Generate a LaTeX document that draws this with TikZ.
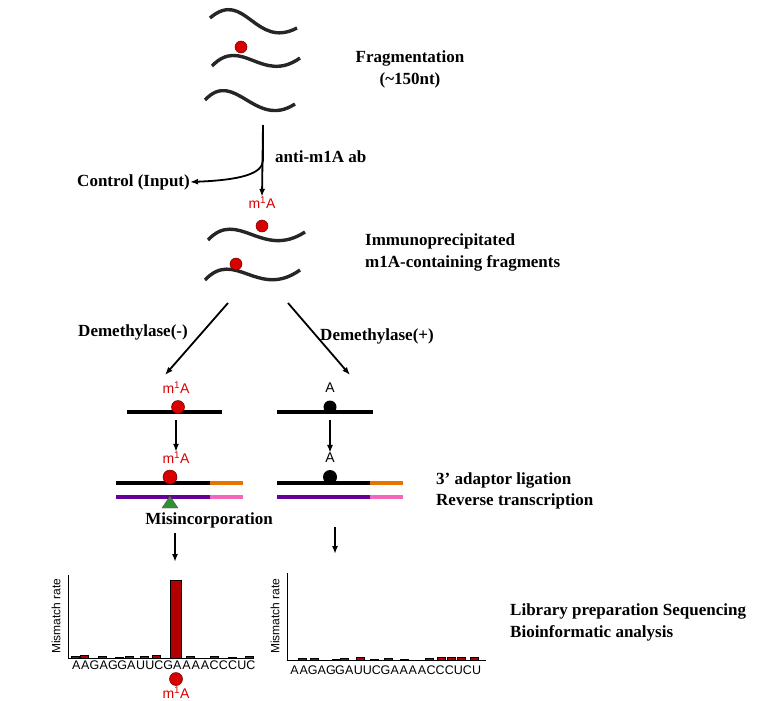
\documentclass[tikz,border=0pt]{standalone}
\usepackage{fontspec}
\setmainfont{Liberation Serif}
\newfontfamily\sansf{Liberation Sans}
\usetikzlibrary{arrows.meta}
\begin{document}
\begin{tikzpicture}[x=1pt,y=-1pt,
  lbl/.style={font=\bfseries\fontsize{17}{19}\selectfont,inner sep=0pt},
  lbll/.style={lbl,anchor=west},
  wave/.style={line width=3.4pt,black!85},
  red/.style={fill=red!85!black,draw=black!60!red,line width=0.5pt},
  mA/.style={font=\sansf\fontsize{14}{15}\selectfont,text=red!85!black,inner sep=0pt},
  pA/.style={font=\sansf\fontsize{14}{15}\selectfont,inner sep=0pt},
  arr/.style={-{Latex[length=8pt,width=6pt]},line width=1.8pt},
  strand/.style={line width=4pt},
  bar/.style={fill=red!70!black,draw=black,line width=0.7pt},
  seq/.style={font=\sansf\fontsize{12.5}{13}\selectfont,inner sep=0pt},
  ylab/.style={font=\sansf\fontsize{12}{13}\selectfont,rotate=90,inner sep=0pt}]
\useasboundingbox (0,0) rectangle (776,701);
% top waves
\draw[wave] (210,18) .. controls (245,-12) and (255,50) .. (297,28);
\draw[wave] (212,66) .. controls (242,35) and (262,85) .. (300,58);
\node[circle,red,minimum size=12pt,inner sep=0pt] (d1) at (241,47) {};
\draw[wave] (205,100) .. controls (235,68) and (255,130) .. (295,104);
\node[lbl] (frag) at (410,58) {Fragmentation};
\node[lbl] (nt) at (410,80) {(\textasciitilde150nt)};
% split
\coordinate (s) at (263,125);
\node[lbl,anchor=east] (ctrl) at (190,182) {Control (Input)};
\node[mA] (m1) at (262,203) {m\textsuperscript{1}A};
\draw[line width=1.8pt,-{Latex[length=8pt,width=6pt]}] (s) -- (263,160) .. controls (263,174) and (240,180) .. (ctrl.east);
\draw[arr] (s) -- (m1.north);
\node[lbll] (ab) at (275,157) {anti-m1A ab};
% IP waves
\draw[wave] (208,240) .. controls (238,208) and (262,260) .. (305,232);
\node[circle,red,minimum size=12pt,inner sep=0pt] (d2) at (262,226) {};
\draw[wave] (205,280) .. controls (235,248) and (258,300) .. (300,270);
\node[circle,red,minimum size=12pt,inner sep=0pt] (d3) at (236,264) {};
\node[lbll] (ip1) at (365,241) {Immunoprecipitated};
\node[lbll] (ip2) at (365,263) {m1A-containing fragments};
% demethylase arrows
\coordinate (b1) at (228,303); \coordinate (b2) at (288,303);
\node[mA] (lm1) at (176,388) {m\textsuperscript{1}A};
\node[pA] (ra1) at (330,388) {A};
\draw[arr] (b1) -- (165,375);
\draw[arr] (b2) -- (350,375);
\node[lbl] (dm) at (133,332) {Demethylase(-)};
\node[lbl] (dp) at (377,336) {Demethylase(+)};
% row 1
\draw[strand] (127,412) -- (222,412);
\node[circle,red,minimum size=13pt,inner sep=0pt] (ld1) at (178,407) {};
\draw[strand] (277,412) -- (373,412);
\node[circle,fill=black,minimum size=13pt,inner sep=0pt] (rd1) at (330,407) {};
\node[mA] (lm2) at (176,458) {m\textsuperscript{1}A};
\node[pA] (ra2) at (330,458) {A};
\draw[arr] (176,420) -- (lm2.north);
\draw[arr] (330,420) -- (ra2.north);
% row 2
\draw[strand] (116,483) -- (210,483);
\draw[strand,orange!90!black] (210,483) -- (243,483);
\draw[strand,violet!80!blue] (116,497) -- (210,497);
\draw[strand,magenta!60!white] (210,497) -- (243,497);
\node[circle,red,minimum size=14pt,inner sep=0pt] (ld2) at (170,477) {};
\draw[fill=green!45!black!80,draw=black!70] (162,508) -- (178,508) -- (170,496) -- cycle;
\draw[strand] (277,483) -- (370,483);
\draw[strand,orange!90!black] (370,483) -- (403,483);
\draw[strand,violet!80!blue] (277,497) -- (370,497);
\draw[strand,magenta!60!white] (370,497) -- (403,497);
\node[circle,fill=black,minimum size=14pt,inner sep=0pt] (rd2) at (330,477) {};
\node[lbl] (mis) at (209,520) {Misincorporation};
\node[lbll] (ad1) at (436,480) {3’ adaptor ligation};
\node[lbll] (ad2) at (436,501) {Reverse transcription};
\draw[arr] (175,533) -- (175,562);
\draw[arr] (335,527) -- (335,554);
% chart 1
\draw[line width=1pt] (68,575) -- (68,658) -- (252,658);
\node[ylab] (yl1) at (56,616) {Mismatch rate};
\foreach \x/\h in {71/2,80/3,98/2,115/1,125/1.5,140/2,152/3,186/1.5,210/2,228/1,245/1.5}
  \draw[bar] (\x,658) rectangle ++(8,-\h);
\draw[bar] (170,658) rectangle (181,580);
\foreach \l [count=\i] in {A,A,G,A,G,G,A,U,U,C,G,A,A,A,A,C,C,C,U,C}
  \node[seq] (sa\i) at ({67+9.2*\i},665) {\l};
\node[circle,red,minimum size=13pt,inner sep=0pt] (bd) at (176,679) {};
\node[mA] (bm) at (176,693) {m\textsuperscript{1}A};
% chart 2
\draw[line width=1pt] (287,573) -- (287,660) -- (486,660);
\node[ylab] (yl2) at (275,616) {Mismatch rate};
\foreach \x/\h in {298/1.5,310/2,332/1,340/2,356/3,370/1,384/2,400/1,425/2,437/3,447/3,457/3,470/3}
  \draw[bar] (\x,660) rectangle ++(8,-\h);
\foreach \l [count=\i] in {A,A,G,A,G,G,A,U,U,C,G,A,A,A,A,C,C,C,U,C,U}
  \node[seq] (sb\i) at ({285.5+9.1*\i},670) {\l};
\node[lbll] (lib1) at (510,611) {Library preparation Sequencing};
\node[lbll] (lib2) at (510,633) {Bioinformatic analysis};
\end{tikzpicture}
\end{document}
